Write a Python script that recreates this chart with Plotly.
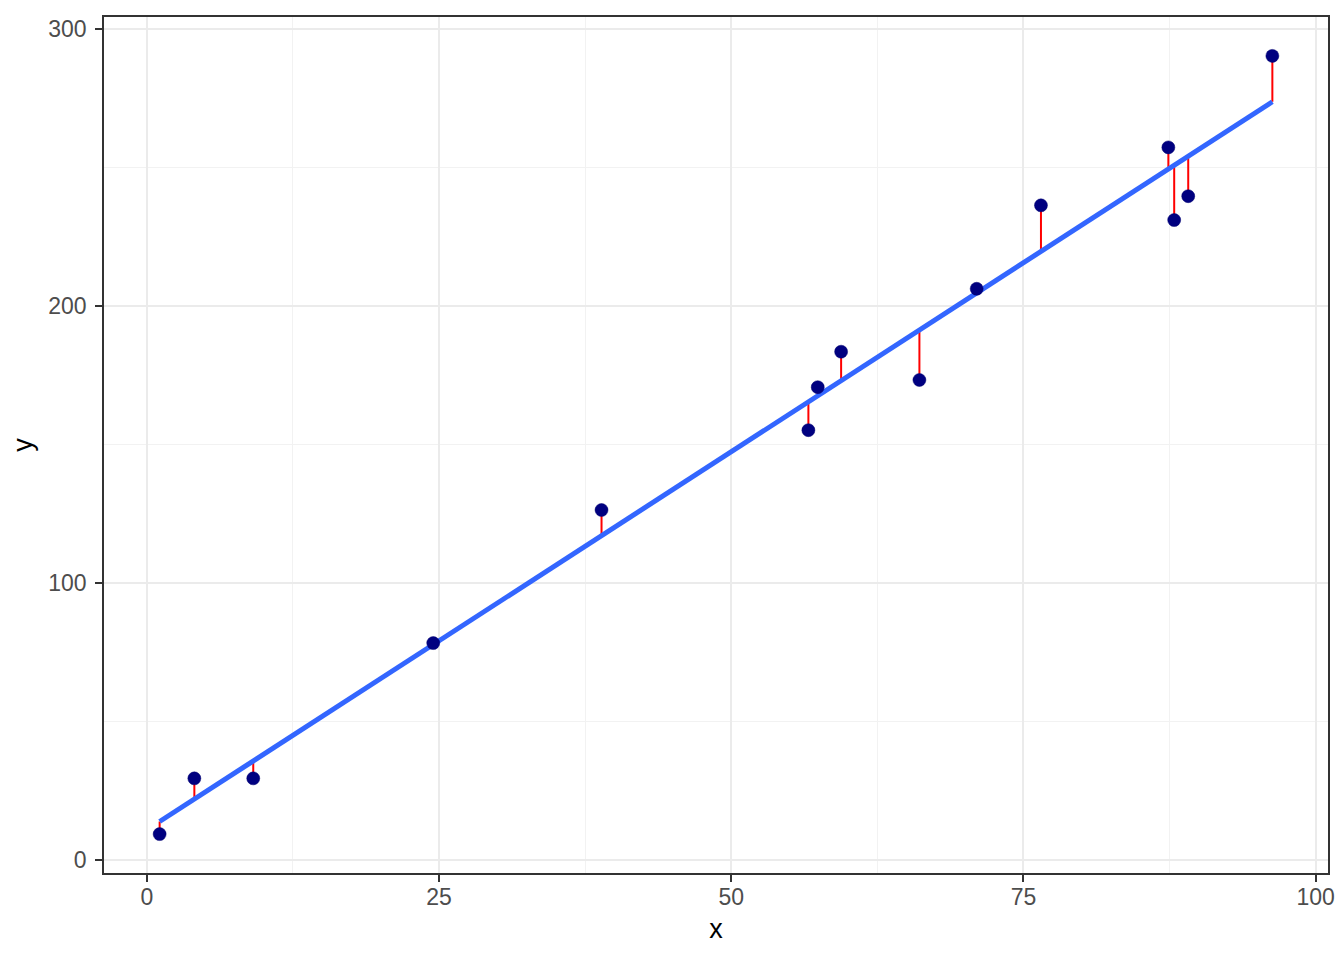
import numpy as np
import plotly.graph_objects as go

x_vals = [1.09, 4.06, 9.1, 24.5, 38.9, 56.6, 57.4, 59.4, 66.1, 71.0, 76.5, 87.4, 87.9, 89.1, 96.3]
y_vals = [9.5, 29.6, 29.6, 78.4, 126.4, 155.2, 170.7, 183.5, 173.3, 206.2, 236.3, 257.2, 231.0, 239.6, 290.2]
x_ticks = [0, 25, 50, 75, 100]
y_ticks = [0, 100, 200, 300]

x = np.array(x_vals)
y = np.array(y_vals)
slope, intercept = np.polyfit(x, y, 1)
yhat = slope * x + intercept

xl = np.linspace(x.min(), x.max(), 80)
yl = slope * xl + intercept

seg_x, seg_y = [], []
for xi, yi, fi in zip(x, y, yhat):
    seg_x += [xi, xi, None]
    seg_y += [yi, fi, None]

fig = go.Figure()
fig.add_trace(go.Scatter(x=seg_x, y=seg_y, mode="lines",
                         line=dict(color="red", width=2), hoverinfo="skip"))
fig.add_trace(go.Scatter(x=xl, y=yl, mode="lines",
                         line=dict(color="#3366FF", width=5)))
fig.add_trace(go.Scatter(x=x, y=y, mode="markers",
                         marker=dict(color="#000080", size=13,
                                     line=dict(color="#000070", width=0.5))))

xr = x.max() - x.min()
yr = y.max() - y.min()
font = "Liberation Sans, Arial, sans-serif"

# page body has an 8px default margin; compensate so the panel lands in place
fig.update_layout(
    width=1336, height=952,
    margin=dict(l=94, r=16, t=7, b=87),
    paper_bgcolor="white", plot_bgcolor="white",
    showlegend=False,
    font=dict(family=font),
    xaxis=dict(
        range=[x.min() - 0.05 * xr, x.max() + 0.05 * xr],
        tickvals=x_ticks, ticktext=[str(t) for t in x_ticks],
        ticks="outside", ticklen=7, tickwidth=1.5, tickcolor="#333333",
        tickfont=dict(size=23, color="#4D4D4D", family=font),
        ticklabelstandoff=-4,
        showgrid=True, gridcolor="#EBEBEB", gridwidth=2,
        minor=dict(tickvals=[12.5, 37.5, 62.5, 87.5], showgrid=True,
                   gridcolor="#F2F2F2", gridwidth=1, ticks=""),
        showline=True, linecolor="#333333", linewidth=1.5, mirror=True,
        zeroline=False,
        title=dict(text="x", font=dict(size=27, color="black", family=font), standoff=10),
    ),
    yaxis=dict(
        range=[y.min() - 0.05 * yr, y.max() + 0.05 * yr],
        tickvals=y_ticks, ticktext=[str(t) for t in y_ticks],
        ticks="outside", ticklen=7, tickwidth=1.5, tickcolor="#333333",
        tickfont=dict(size=23, color="#4D4D4D", family=font),
        ticklabelstandoff=4,
        showgrid=True, gridcolor="#EBEBEB", gridwidth=2,
        minor=dict(tickvals=[50, 150, 250], showgrid=True,
                   gridcolor="#F2F2F2", gridwidth=1, ticks=""),
        showline=True, linecolor="#333333", linewidth=1.5, mirror=True,
        zeroline=False,
        title=dict(text="y", font=dict(size=27, color="black", family=font), standoff=14),
    ),
)

fig.write_html("out.html")
